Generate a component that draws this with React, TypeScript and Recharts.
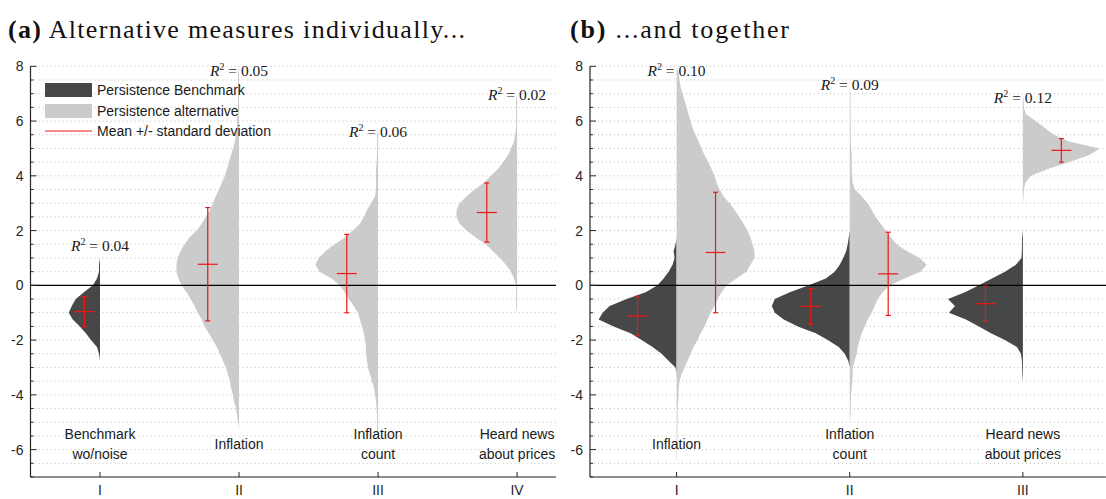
import {
  ComposedChart,
  Area,
  XAxis,
  YAxis,
  CartesianGrid,
  ReferenceLine,
  ReferenceDot,
  Legend,
} from "recharts";

const DARK = "#474747";
const LIGHT = "#cbcbcb";
const RED = "#f01515";
const INK = "#262626";
const GRID = "#bdbdbd";
const SANS = "'Liberation Sans', Arial, Helvetica, sans-serif";
const SERIF = "'Liberation Serif', 'Times New Roman', serif";

// densities are histogram bins 0.25 wide, listed bottom-up from `lo`
const BIN = 0.25;
const Y_MIN = -7;
const Y_MAX = 8;
const HALF_WIDTH = 0.45; // widest half-violin of a panel, in x units
const NAME_Y = -5.8;

const yTicks = [
  -7, -6.5, -6, -5.5, -5, -4.5, -4, -3.5, -3, -2.5, -2, -1.5, -1, -0.5, 0, 0.5,
  1, 1.5, 2, 2.5, 3, 3.5, 4, 4.5, 5, 5.5, 6, 6.5, 7, 7.5, 8,
];
const yLabelled = [-6, -4, -2, 0, 2, 4, 6, 8];

// (a) alternative measures individually
const aTicks = [1, 2, 3, 4];
const aTickNames = ["I", "II", "III", "IV"];
const aNames = [["Benchmark", "wo/noise"], ["Inflation"], ["Inflation", "count"], ["Heard news", "about prices"]];
const aR2 = ["0.04", "0.05", "0.06", "0.02"];
const aR2At = [1.44, 7.83, 5.62, 6.97];
const aMean = [-0.96, 0.77, 0.43, 2.66];
const aSd = [0.55, 2.07, 1.43, 1.08];

const aBench = [0, 1, 3, 9, 14, 20, 27, 31, 28, 24, 16, 7, 3, 1, 1, 0]; // from -2.75
const aInfl = [
  0, 1, 2, 3, 5, 6, 8, 9, 11, 13, 16, 19, 22, 26, 30, 34, 37, 41, 44, 48, 52, 57, 60, 62, 62, 61, 58, 54,
  49, 42, 37, 33, 29, 26, 23, 20, 17, 14, 12, 10, 8, 6, 4, 3, 2, 2, 1.5, 1, 1, 1, 1, 1, 1, 0,
]; // from -5.25
const aCount = [
  0, 1, 1, 1, 1.5, 2, 3, 4, 6, 8, 10, 11, 12, 12, 13, 14, 16, 18, 20, 24, 29, 33, 38, 46, 58, 62, 59, 52,
  43, 33, 25, 18, 14, 11, 7, 3, 2, 2, 2, 2, 1.5, 1, 1, 1, 1, 0,
]; // from -5.5
const aNews = [
  0, 1, 1, 1, 1, 3, 6, 11, 17, 24, 31, 41, 50, 57, 60, 60, 57, 50, 42, 33, 26, 19, 14, 9, 6, 3, 2, 1, 1,
  1, 1, 1, 0,
]; // from -1

// (b) ...and together
const bTicks = [1, 2, 3];
const bTickNames = ["I", "II", "III"];
const bNames = [["Inflation"], ["Inflation", "count"], ["Heard news", "about prices"]];
const bR2 = ["0.10", "0.09", "0.12"];
const bR2At = [7.83, 7.34, 6.85];
const bMeanDark = [-1.12, -0.77, -0.67];
const bSdDark = [0.72, 0.65, 0.64];
const bMeanLight = [1.2, 0.42, 4.93];
const bSdLight = [2.2, 1.52, 0.43];

const bInflD = [0, 1, 8, 15, 24, 35, 46, 63, 78, 74, 67, 50, 31, 19, 13, 8, 4, 2, 3, 1, 0]; // from -3.25
const bInflL = [
  0, 0.5, 0.6, 0.6, 0.8, 0.8, 1, 1, 1, 1.5, 2, 2, 3, 5, 8, 11, 14, 17, 21, 24, 28, 31, 34, 38, 41, 45, 50,
  60, 70, 74, 78, 78, 76, 74, 71, 67, 63, 58, 53, 47, 43, 40, 38, 35, 32, 28, 25, 22, 19, 16, 14, 12, 10,
  8, 6, 4, 3, 2, 0,
]; // from -6.5
const bCountD = [0, 1.5, 5, 11, 22, 34, 52, 66, 75, 78, 75, 60, 41, 24, 15, 10, 6.5, 3.5, 2, 1, 0]; // from -3
const bCountL = [
  0, 0.8, 1, 1, 1.5, 2, 2.5, 3, 3, 5, 7, 8, 10, 12, 15, 18, 22, 25, 28, 33, 40, 55, 71, 77, 70, 57, 47,
  41, 36, 31, 26, 22, 18, 12, 5, 3, 2.5, 2, 2, 2, 1.5, 1, 1, 1, 1, 0.8, 0.8, 0.8, 0.8, 0,
]; // from -5
const bNewsD = [0, 0.6, 0.8, 1, 2, 6, 18, 32, 44, 57, 74, 68, 75, 58, 44, 31, 18, 7, 1.5, 1, 1, 0.8, 0]; // from -3.5
const bNewsL = [0, 0.8, 1, 2.5, 8, 25, 46, 66, 77, 46, 31, 22, 13, 3, 1, 0.8, 0]; // from 3

const legendItems = [
  { label: "Persistence Benchmark", color: DARK, kind: "box" },
  { label: "Persistence alternative", color: LIGHT, kind: "box" },
  { label: "Mean +/- standard deviation", color: RED, kind: "line" },
];

type Violin = {
  key: string;
  pos: number;
  side: number;
  fill: string;
  lo: number;
  dens: number[];
  mean: number;
  sd: number;
};

const aViolins: Violin[] = [
  { key: "bench", pos: 1, side: -1, fill: DARK, lo: -2.75, dens: aBench, mean: aMean[0], sd: aSd[0] },
  { key: "infl", pos: 2, side: -1, fill: LIGHT, lo: -5.25, dens: aInfl, mean: aMean[1], sd: aSd[1] },
  { key: "count", pos: 3, side: -1, fill: LIGHT, lo: -5.5, dens: aCount, mean: aMean[2], sd: aSd[2] },
  { key: "news", pos: 4, side: -1, fill: LIGHT, lo: -1, dens: aNews, mean: aMean[3], sd: aSd[3] },
];

const bViolins: Violin[] = [
  { key: "inflD", pos: 1, side: -1, fill: DARK, lo: -3.25, dens: bInflD, mean: bMeanDark[0], sd: bSdDark[0] },
  { key: "inflL", pos: 1, side: 1, fill: LIGHT, lo: -6.5, dens: bInflL, mean: bMeanLight[0], sd: bSdLight[0] },
  { key: "countD", pos: 2, side: -1, fill: DARK, lo: -3, dens: bCountD, mean: bMeanDark[1], sd: bSdDark[1] },
  { key: "countL", pos: 2, side: 1, fill: LIGHT, lo: -5, dens: bCountL, mean: bMeanLight[1], sd: bSdLight[1] },
  { key: "newsD", pos: 3, side: -1, fill: DARK, lo: -3.5, dens: bNewsD, mean: bMeanDark[2], sd: bSdDark[2] },
  { key: "newsL", pos: 3, side: 1, fill: LIGHT, lo: 3, dens: bNewsL, mean: bMeanLight[2], sd: bSdLight[2] },
];

function buildRows(violins: Violin[], scale: number) {
  const rows: Record<string, any>[] = [];
  const steps = Math.round((Y_MAX - Y_MIN) / BIN);
  for (let i = 0; i <= steps; i++) {
    const y = Y_MIN + i * BIN;
    const row: Record<string, any> = { y };
    for (const v of violins) {
      const k = Math.round((y - v.lo) / BIN);
      const d = k >= 0 && k < v.dens.length ? v.dens[k] : 0;
      row[v.key] = [v.pos, v.pos + v.side * d * scale];
    }
    rows.push(row);
  }
  return rows;
}

function YTick({ x, y, payload }: any) {
  const major = yLabelled.includes(payload.value);
  return (
    <g>
      <line x1={x} x2={x + (major ? 6 : 3)} y1={y} y2={y} stroke={INK} strokeWidth={1} />
      {major && (
        <text x={x - 7} y={y} dy="0.36em" textAnchor="end" fontFamily={SANS} fontSize={14} fill={INK}>
          {payload.value}
        </text>
      )}
    </g>
  );
}

function R2Label({ cx, cy, value }: any) {
  return (
    <text x={cx} y={cy} dy="0.35em" textAnchor="middle" fontFamily={SERIF} fontSize={15.5} fill="#1a1a1a">
      <tspan fontStyle="italic">R</tspan>
      <tspan fontSize={10} dy={-6}>2</tspan>
      <tspan dy={6}>{" = " + value}</tspan>
    </text>
  );
}

function NameLabel({ cx, cy, lines }: any) {
  const lh = 20;
  const start = (-(lines.length - 1) * lh) / 2;
  return (
    <text textAnchor="middle" fontFamily={SANS} fontSize={14} fill="#1a1a1a">
      {lines.map((l: string, i: number) => (
        <tspan key={i} x={cx} y={cy + start + i * lh} dy="0.35em">
          {l}
        </tspan>
      ))}
    </text>
  );
}

function LegendBox() {
  return (
    <div style={{ fontFamily: SANS, fontSize: 14, color: "#1a1a1a" }}>
      {legendItems.map((it) => (
        <div key={it.label} style={{ display: "flex", alignItems: "center", height: 20.5 }}>
          <svg width={47} height={20}>
            {it.kind === "box" ? (
              <rect x={0} y={3} width={47} height={14} fill={it.color} />
            ) : (
              <line x1={0} x2={47} y1={10} y2={10} stroke={it.color} strokeWidth={1.2} />
            )}
          </svg>
          <span style={{ marginLeft: 5, whiteSpace: "nowrap" }}>{it.label}</span>
        </div>
      ))}
    </div>
  );
}

type PanelProps = {
  width: number;
  margin: { top: number; right: number; bottom: number; left: number };
  xMax: number;
  violins: Violin[];
  ticks: number[];
  tickNames: string[];
  names: string[][];
  r2: string[];
  r2At: number[];
  legend?: boolean;
};

const HEIGHT = 499;
const ARM_PX = 10;
const CAP_PX = 2.5;

function ViolinPanel({ width, margin, xMax, violins, ticks, tickNames, names, r2, r2At, legend }: PanelProps) {
  const maxDens = Math.max(...violins.map((v) => Math.max(...v.dens)));
  const scale = HALF_WIDTH / maxDens;
  const rows = buildRows(violins, scale);
  // axes take 1px each from the margins below
  const pxPerX = (width - margin.left - 1 - margin.right) / (xMax - 0.5);
  const arm = ARM_PX / pxPerX;
  const cap = CAP_PX / pxPerX;

  const crosses = violins.flatMap((v) => {
    const cx = v.pos + (v.side * Math.max(...v.dens) * scale) / 2;
    const top = v.mean + v.sd;
    const bot = v.mean - v.sd;
    const segs = [
      [cx, bot, cx, top],
      [cx - arm, v.mean, cx + arm, v.mean],
      [cx - cap, top, cx + cap, top],
      [cx - cap, bot, cx + cap, bot],
    ];
    return segs.map((s, i) => (
      <ReferenceLine
        key={`${v.key}-${i}`}
        segment={[
          { x: s[0], y: s[1] },
          { x: s[2], y: s[3] },
        ]}
        stroke={RED}
        strokeWidth={1.2}
        ifOverflow="visible"
      />
    ));
  });

  const XTick = ({ x, y, payload }: any) => (
    <g>
      <line x1={x} x2={x} y1={y} y2={y - 5} stroke={INK} strokeWidth={1} />
      <text x={x} y={y + 8} dy="0.71em" textAnchor="middle" fontFamily={SANS} fontSize={14} fill={INK}>
        {tickNames[ticks.indexOf(payload.value)]}
      </text>
    </g>
  );

  return (
    <ComposedChart layout="vertical" width={width} height={HEIGHT} data={rows} margin={margin}>
      <CartesianGrid horizontal vertical={false} stroke={GRID} strokeDasharray="1 3" />
      <XAxis
        type="number"
        domain={[0.5, xMax]}
        allowDataOverflow
        ticks={ticks}
        interval={0}
        height={1}
        tickSize={0}
        tickMargin={0}
        tickLine={false}
        axisLine={{ stroke: INK, strokeWidth: 1.2 }}
        tick={XTick}
      />
      <YAxis
        type="number"
        dataKey="y"
        domain={[Y_MIN, Y_MAX]}
        reversed
        allowDataOverflow
        ticks={yTicks}
        interval={0}
        width={1}
        tickSize={0}
        tickMargin={0}
        tickLine={false}
        axisLine={{ stroke: INK, strokeWidth: 1.2 }}
        tick={YTick}
      />
      {violins.map((v) => (
        <Area
          key={v.key}
          dataKey={v.key}
          type="linear"
          fill={v.fill}
          fillOpacity={1}
          stroke="none"
          dot={false}
          activeDot={false}
          isAnimationActive={false}
        />
      ))}
      <ReferenceLine y={0} stroke="#000" strokeWidth={1.4} />
      {crosses}
      {ticks.map((t, i) => (
        <ReferenceDot
          key={`r2-${t}`}
          x={t}
          y={r2At[i]}
          r={0}
          ifOverflow="visible"
          shape={(p: any) => <R2Label cx={p.cx} cy={p.cy} value={r2[i]} />}
        />
      ))}
      {ticks.map((t, i) => (
        <ReferenceDot
          key={`name-${t}`}
          x={t}
          y={NAME_Y}
          r={0}
          ifOverflow="visible"
          shape={(p: any) => <NameLabel cx={p.cx} cy={p.cy} lines={names[i]} />}
        />
      ))}
      {legend && (
        <Legend
          layout="vertical"
          align="center"
          verticalAlign="middle"
          wrapperStyle={{ left: 45, top: 80, width: 280, height: 62 }}
          content={() => <LegendBox />}
        />
      )}
    </ComposedChart>
  );
}

export default function App() {
  return (
    <div style={{ position: "absolute", left: 0, top: 0, width: 1106, height: 499, background: "#fff", overflow: "hidden" }}>
      <svg width={1106} height={60} style={{ position: "absolute", left: 0, top: 0 }}>
        <text x={8} y={38} fontFamily={SERIF} fontSize={26} fill="#111" textLength={457} lengthAdjust="spacing">
          <tspan fontWeight="bold">(a)</tspan> Alternative measures individually...
        </text>
        <text x={570} y={38} fontFamily={SERIF} fontSize={26} fill="#111" textLength={219} lengthAdjust="spacing">
          <tspan fontWeight="bold">(b)</tspan> ...and together
        </text>
      </svg>
      <div style={{ position: "absolute", left: 0, top: 0 }}>
        <ViolinPanel
          width={560}
          margin={{ top: 66.3, right: 4, bottom: 21, left: 29.5 }}
          xMax={4.28}
          violins={aViolins}
          ticks={aTicks}
          tickNames={aTickNames}
          names={aNames}
          r2={aR2}
          r2At={aR2At}
          legend
        />
      </div>
      <div style={{ position: "absolute", left: 560, top: 0 }}>
        <ViolinPanel
          width={546}
          margin={{ top: 66.3, right: 0, bottom: 21, left: 29 }}
          xMax={3.48}
          violins={bViolins}
          ticks={bTicks}
          tickNames={bTickNames}
          names={bNames}
          r2={bR2}
          r2At={bR2At}
        />
      </div>
    </div>
  );
}
